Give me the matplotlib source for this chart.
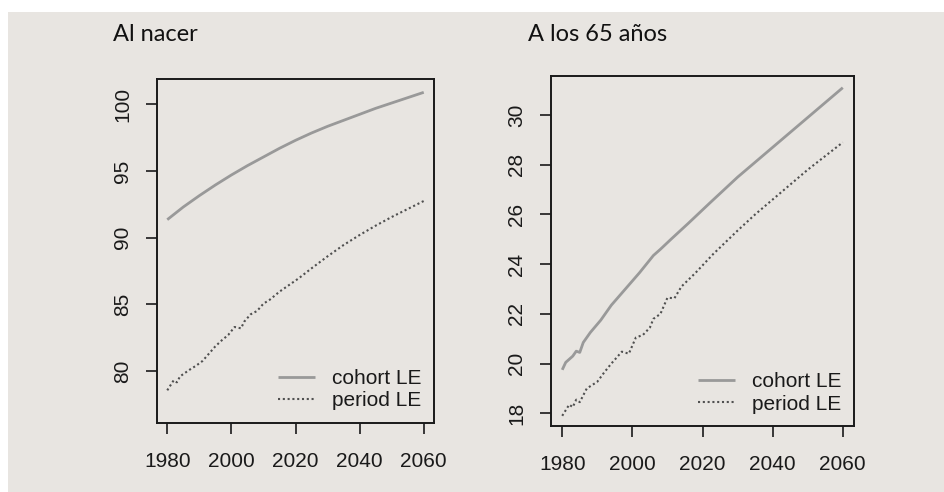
import matplotlib
matplotlib.use("Agg")
import matplotlib.pyplot as plt
from matplotlib.patches import Rectangle

# Al nacer (at birth)
birth_cohort_years = [1980, 1985, 1990, 1995, 2000, 2005, 2010, 2015, 2020,
                      2025, 2030, 2035, 2040, 2045, 2050, 2055, 2060]
birth_cohort_le = [91.35, 92.3, 93.15, 93.95, 94.7, 95.4, 96.05, 96.7, 97.3,
                   97.85, 98.35, 98.8, 99.25, 99.7, 100.1, 100.5, 100.9]

birth_period_years = [1980, 1982, 1983, 1984, 1987, 1989, 1991, 1993, 1995, 1997,
                      1999, 2001, 2003, 2004, 2006, 2008, 2010, 2012, 2015, 2018,
                      2021, 2025, 2030, 2035, 2040, 2045, 2050, 2055, 2060]
birth_period_le = [78.55, 79.3, 79.15, 79.6, 80.1, 80.4, 80.75, 81.3, 81.85, 82.3,
                   82.7, 83.3, 83.2, 83.7, 84.25, 84.5, 85.05, 85.35, 85.95, 86.45,
                   86.95, 87.7, 88.6, 89.45, 90.2, 90.9, 91.55, 92.15, 92.75]

# A los 65 años (at age 65)
age65_cohort_years = [1980, 1981, 1983, 1984, 1985, 1986, 1988, 1991, 1994, 1998,
                      2002, 2006, 2008, 2011, 2016, 2022, 2030, 2035, 2040, 2045,
                      2050, 2055, 2060]
age65_cohort_le = [19.75, 20.05, 20.3, 20.5, 20.45, 20.85, 21.25, 21.75, 22.35, 23.0,
                   23.65, 24.35, 24.6, 25.0, 25.65, 26.45, 27.5, 28.1, 28.7, 29.3,
                   29.9, 30.5, 31.1]

age65_period_years = [1980, 1982, 1983, 1984, 1985, 1987, 1990, 1992, 1994, 1997,
                      1999, 2001, 2003, 2005, 2006, 2008, 2010, 2012, 2014, 2018,
                      2023, 2030, 2035, 2040, 2045, 2050, 2055, 2060]
age65_period_le = [17.9, 18.35, 18.25, 18.55, 18.45, 19.0, 19.27, 19.65, 20.0, 20.48,
                   20.4, 21.05, 21.15, 21.45, 21.8, 22.0, 22.65, 22.63, 23.1, 23.65,
                   24.4, 25.35, 26.0, 26.6, 27.2, 27.8, 28.35, 28.9]

titles = ["Al nacer", "A los 65 años"]
x_ticks = [1980, 2000, 2020, 2040, 2060]
birth_y_ticks = [80, 85, 90, 95, 100]
age65_y_ticks = [18, 20, 22, 24, 26, 28, 30]

bg = "#e8e5e1"
W, H = 944, 492

fig = plt.figure(figsize=(W / 100, H / 100), dpi=100, facecolor="white")
fig.patches.append(Rectangle((8 / W, 0), 1 - 8 / W, 1 - 12 / H,
                             transform=fig.transFigure, facecolor=bg,
                             edgecolor="none", zorder=-10))

ax1 = fig.add_axes([157 / W, 1 - 423 / H, 277 / W, 344 / H])
ax2 = fig.add_axes([551 / W, 1 - 426 / H, 303 / W, 350 / H])

panels = [
    (ax1, birth_cohort_years, birth_cohort_le, birth_period_years, birth_period_le,
     birth_y_ticks, (76.1, 101.9)),
    (ax2, age65_cohort_years, age65_cohort_le, age65_period_years, age65_period_le,
     age65_y_ticks, (17.49, 31.57)),
]

for ax, cy, cv, py, pv, yt, ylim in panels:
    ax.set_facecolor("none")
    ax.plot(cy, cv, color="#999999", lw=2.0, solid_capstyle="butt",
            solid_joinstyle="round", label="cohort LE")
    ax.plot(py, pv, color="#505050", lw=1.5, linestyle=(0, (1, 1.3)), label="period LE")
    ax.set_xlim(1976.8, 2063.2)
    ax.set_ylim(*ylim)
    ax.set_xticks(x_ticks)
    ax.set_yticks(yt)
    for sp in ax.spines.values():
        sp.set_linewidth(1.4)
        sp.set_color("#1a1a1a")
    ax.tick_params(axis="both", direction="out", length=8, width=1.2,
                   color="#1a1a1a", labelsize=15, labelcolor="#1a1a1a")
    ax.tick_params(axis="x", pad=13)
    ax.tick_params(axis="y", pad=10)
    for lab in ax.get_yticklabels():
        lab.set_rotation(90)
        lab.set_va("center")
    for lab in ax.get_xticklabels() + ax.get_yticklabels():
        lab.set_family("Liberation Sans")
    leg = ax.legend(loc="lower right", frameon=False, handlelength=1.8,
                    handletextpad=0.8, labelspacing=0.15, borderaxespad=0.2,
                    prop={"family": "Liberation Sans", "size": 15})
    for t in leg.get_texts():
        t.set_color("#1a1a1a")

fig.text(113 / W, 1 - 41 / H, titles[0], family="Lato", fontsize=17,
         ha="left", va="baseline", color="#111111")
fig.text(528 / W, 1 - 41 / H, titles[1], family="Lato", fontsize=17,
         ha="left", va="baseline", color="#111111")

fig.savefig("out.png", dpi=100, facecolor=fig.get_facecolor())
